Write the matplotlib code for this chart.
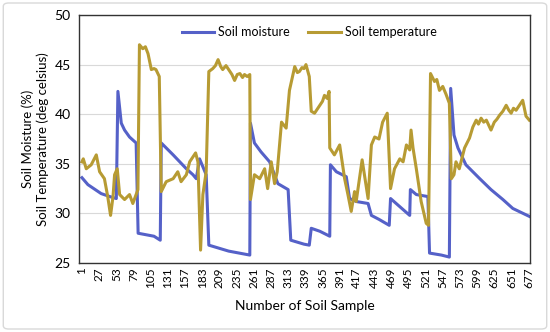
import matplotlib.pyplot as plt
from matplotlib.patches import FancyBboxPatch

# Soil moisture (%) - sample number and reading
moist_x = [1, 10, 30, 43, 53, 55.4, 60.5, 65.5, 73, 83, 86, 110,
           119.5, 121, 128.5, 139, 149, 159, 169, 174, 179, 189, 193, 223,
           255, 256, 262, 272, 285, 297.5, 313, 317, 337,
           345, 348, 361, 376, 377, 386, 401, 406, 416, 434, 439, 450.5,
           466, 468, 497, 498, 507, 524.5, 527, 545, 557, 559, 564,
           570, 582, 603, 620, 638, 653, 678]
moist_y = [33.6, 32.9, 32.0, 31.7, 31.5, 42.3, 39.1, 38.4, 37.7, 37.1, 28.0, 27.7,
           27.3, 37.1, 36.6, 35.9, 35.2, 34.5, 33.9, 33.5, 35.5, 33.9, 26.8, 26.2,
           25.8, 39.1, 37.1, 36.2, 35.2, 33.0, 32.4, 27.3, 26.9,
           26.8, 28.5, 28.2, 27.7, 34.9, 34.2, 33.7, 31.5, 31.2, 31.0, 29.8, 29.4,
           28.8, 31.5, 29.8, 32.4, 31.9, 31.7, 26.0, 25.8, 25.6, 42.6, 37.9,
           36.6, 34.9, 33.5, 32.4, 31.4, 30.5, 29.7]

# Soil temperature (deg celsius)
temp_x = [1, 3, 7.5, 15, 22.7, 27.7, 35, 40, 44.3, 48, 50.4, 54.4, 58, 65.5,
          73, 78, 85.7, 88, 93, 97, 101, 106, 110, 113, 118,
          121, 128.5, 139, 146, 151, 159, 164, 173, 176.5, 180.5, 184, 189,
          193, 199, 203, 207, 211, 214, 219, 223, 228, 232, 236, 240, 244, 247, 251, 255,
          256, 262, 270, 277.5, 282, 287.5, 292.5, 296.5, 303, 310, 315,
          323, 327, 330, 334, 337, 340, 345, 348, 353, 361, 365, 368, 372, 375,
          376, 383, 391, 398.5, 403.5, 408.5, 413.5, 416, 425, 434, 439,
          444, 450.5, 456, 463, 468, 474, 482, 487, 492, 497, 499, 502,
          507, 514.3, 522, 525.5, 528.5, 534.5, 538, 542, 547, 552, 557, 560, 564,
          567, 572, 580, 587.5, 592.5, 597.6, 601, 605, 609, 613, 620, 625, 629, 633,
          638, 643, 647, 650.5, 654, 658, 663, 668, 673, 678]
temp_y = [35.2, 35.5, 34.5, 34.9, 35.9, 34.2, 33.5, 31.7, 29.8, 31.7, 33.9, 34.5, 31.9, 31.4,
          31.9, 31.0, 32.4, 47.0, 46.6, 46.8, 46.1, 44.5, 44.6, 44.5, 43.8,
          32.2, 33.2, 33.5, 34.2, 33.2, 33.9, 35.2, 36.1, 35.2, 26.3, 31.9, 34.2,
          44.3, 44.6, 44.9, 45.5, 44.8, 44.5, 44.9, 44.5, 44.0, 43.4, 44.0, 44.1, 43.7, 44.0, 43.8, 44.0,
          31.4, 33.9, 33.5, 34.5, 32.5, 35.2, 33.0, 34.2, 39.2, 38.6, 42.4,
          44.8, 44.2, 44.3, 44.7, 44.6, 45.0, 43.8, 40.3, 40.1, 40.9, 41.3, 41.9, 41.6, 42.3,
          36.6, 35.9, 36.9, 33.5, 31.9, 30.2, 32.2, 31.2, 35.4, 31.5, 36.9,
          37.7, 37.5, 39.2, 40.1, 32.5, 34.5, 35.5, 35.2, 36.9, 36.4, 38.4, 36.6,
          34.5, 31.2, 29.0, 28.8, 44.1, 43.3, 43.5, 42.4, 42.8, 42.0, 41.1, 33.5, 33.9,
          35.2, 34.5, 36.6, 37.6, 38.7, 39.4, 39.0, 39.6, 39.2, 39.4, 38.4, 39.2, 39.5, 39.9,
          40.3, 40.9, 40.4, 40.1, 40.6, 40.4, 40.9, 41.4, 39.8, 39.4]

x_ticks = list(range(1, 678, 26))

plt.rcParams['font.family'] = ['Lato', 'DejaVu Sans']

fig = plt.figure(figsize=(5.5, 3.32), dpi=100)
fig.patches.append(FancyBboxPatch((0.006, 0.009), 0.988, 0.982,
                                  boxstyle="round,pad=0,rounding_size=0.01",
                                  transform=fig.transFigure, fill=False,
                                  edgecolor="#d9d9d9", linewidth=1))
ax = fig.add_axes([0.1436, 0.2078, 0.82, 0.747])

ax.plot(moist_x, moist_y, color="#5561C8", lw=2.2, label="Soil moisture")
ax.plot(temp_x, temp_y, color="#B79B33", lw=2.2, label="Soil temperature")

ax.set_xlim(-3.5, 679)
ax.set_ylim(25, 50)
ax.set_yticks([25, 30, 35, 40, 45, 50])
ax.set_xticks(x_ticks)
ax.set_xticklabels([str(t) for t in x_ticks], rotation=90, fontsize=8.5)
ax.tick_params(axis='y', labelsize=10, length=0, pad=6)
ax.tick_params(axis='x', length=0, pad=3)
ax.grid(axis='y', color="#d9d9d9", lw=0.8)
ax.set_axisbelow(True)
for s in ax.spines.values():
    s.set_color("#333333")
    s.set_linewidth(1)

ax.set_xlabel("Number of Soil Sample", fontsize=10, labelpad=9)
ax.set_ylabel("Soil Moisture (%)\nSoil Temperature (deg celsius)", fontsize=9.5, labelpad=4)

ax.legend(loc="upper center", bbox_to_anchor=(0.51, 1.0), ncol=2, frameon=False,
          fontsize=9, handlelength=2.6, columnspacing=1.5, handletextpad=0.3)

fig.savefig("out.png", dpi=100)
